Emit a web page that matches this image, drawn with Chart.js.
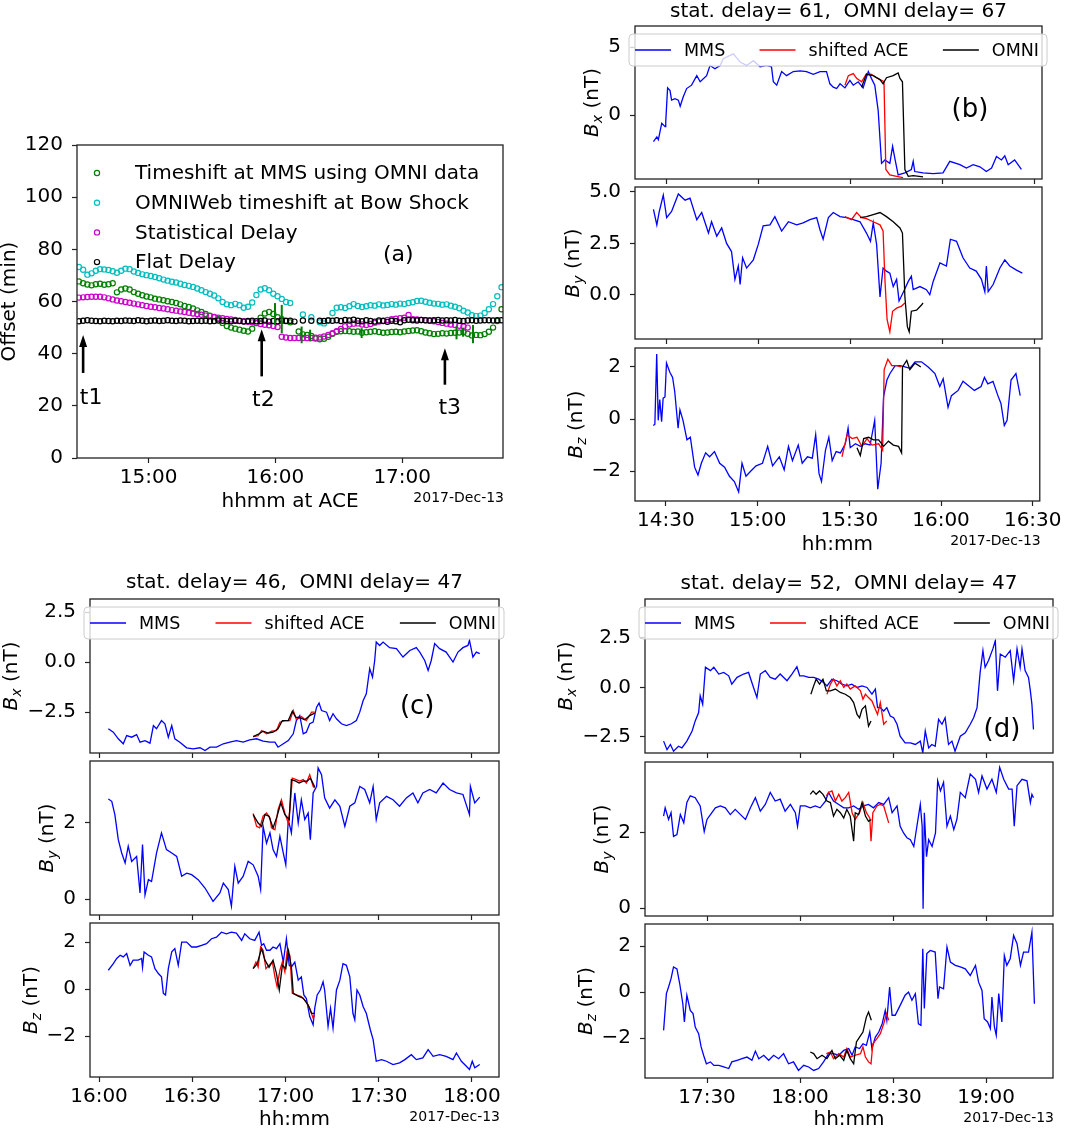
<!DOCTYPE html>
<html>
<head>
<meta charset="utf-8">
<title>Timeshift comparison</title>
<script src="https://cdn.jsdelivr.net/npm/chart.js@4/dist/chart.umd.min.js"></script>
<style>
    html, body { margin: 0; padding: 0; background: #fff; }
    #page { position: relative; width: 1065px; height: 1132px; overflow: hidden; background: #fff; }
    #page canvas { position: absolute; }
</style>
</head>
<body>
<div id="page"></div>
<script>
"use strict";

const FONT = "'DejaVu Sans', sans-serif";
const MINUS = "\u2212";
const DATE_TEXT = "2017-Dec-13";

// ---- panel (a): offsets in minutes, time in minutes since 00:00 ----
const aTimes = [867, 869, 871, 873, 875, 877, 879, 881, 883, 885, 887, 889, 891, 893, 895, 897, 899, 901, 903, 905,
    907, 909, 911, 913, 915, 917, 919, 921, 923, 925, 927, 929, 931, 933, 935, 937, 939, 941, 943, 945,
    947, 949, 951, 953, 955, 957, 959, 961, 963, 965, 967, 969, 971, 973, 975, 977, 979, 981, 983, 985,
    987, 989, 991, 993, 995, 997, 999, 1001, 1003, 1005, 1007, 1009, 1011, 1013, 1015, 1017, 1019, 1021, 1023, 1025,
    1027, 1029, 1031, 1033, 1035, 1037, 1039, 1041, 1043, 1045, 1047, 1049, 1051, 1053, 1055, 1057, 1059, 1061, 1063, 1065, 1067];
const aMmsShift = [67.7, 67.0, 66.5, 66.2, 66.6, 66.8, 66.4, 66.6, 67.0, 63.5, 64.6, 65.0, 64.6, 63.6, 63.0, 62.4, 61.9, 61.6, 61.1, 60.8,
    60.5, 60.1, 59.8, 59.4, 58.9, 58.3, 57.9, 57.3, 56.6, 56.0, 55.2, 54.6, 54.0, 53.3, 51.8, 50.6, 50.0, 49.6, 49.2, 48.8,
    48.5, 49.6, 51.8, 53.8, 55.4, 56.0, 55.2, 54.0, 53.2, 52.6, 52.0, null, 48.5, 47.4, 47.2, 46.8, 45.8, 45.5, 45.7, 46.5,
    47.6, 48.4, 48.6, 48.7, 48.6, 48.4, 48.5, 48.0, 48.2, 48.4, 48.6, 48.3, 48.0, 48.1, 48.3, 48.4, 48.2, 48.5, 48.7, 48.9,
    49.0, 48.6, 48.1, 47.8, 47.5, 47.6, 47.8, 47.7, 47.9, 48.0, 48.1, 48.2, 47.6, 47.0, 47.2, 47.1, 47.5, 48.4, 50.0, 52.5, 57.0];
const aBowShock = [73.2, 72.2, 70.3, 70.8, 71.8, 72.4, 72.3, 72.1, 71.6, 71.0, 71.8, 72.6, 72.4, 71.5, 70.9, 70.4, 70.1, 69.8, 69.4, 68.9,
    68.4, 68.0, 67.6, 67.3, 66.8, 66.3, 66.0, 65.6, 65.0, 64.3, 63.6, 63.0, 62.3, 61.2, 59.8, 58.9, 58.6, 59.1, 58.6, 57.6,
    58.0, 59.6, 62.5, 64.6, 65.1, 64.3, 63.0, 62.0, 61.0, 59.8, 59.4, null, null, 55.0, null, 54.0, null, 52.0, 51.6, 52.8,
    55.6, 57.6, 57.8, 57.5, 58.2, 59.0, 58.3, 57.9, 58.2, 58.6, 58.4, 58.9, 58.5, 58.7, 59.0, 58.8, 59.2, 59.0, 59.4, 59.7,
    60.2, 60.3, 59.9, 59.5, 59.2, 59.1, 58.8, 58.9, 58.4, 58.0, 57.4, 56.5, 55.8, 54.7, 54.4, 54.6, 55.6, 57.0, 59.0, 62.0, 65.5];
const aStatDelay = [61.5, 61.6, 61.7, 61.8, 61.8, 61.8, 61.6, 61.2, 60.8, 60.4, 60.1, 59.8, 59.5, 59.2, 58.9, 58.6, 58.3, 58.0, 57.8, 57.5,
    57.3, 57.0, 56.7, 56.5, 56.2, 56.0, 55.7, 55.4, 55.2, 54.9, 54.6, 54.4, 54.1, 53.8, 53.6, 53.3, 53.1, 52.9, 52.6, 52.4,
    52.2, 52.0, 51.7, 51.4, 51.1, 50.9, 50.6, 50.2, 46.5, 46.2, 46.0, 46.0, 46.0, 46.0, 46.0, 46.0, 46.1, 46.2, 46.6, 47.2,
    47.8, 48.6, 49.5, 50.5, 51.2, 51.5, 51.6, 51.2, 51.0, 51.4, 51.9, 52.3, 52.6, 52.9, 53.2, 53.4, 53.6, 53.8, 54.8, 53.2,
    53.1, 52.9, 52.8, 52.6, 52.4, 52.1, 51.8, 51.5, 51.2, 51.0, 50.7, 50.4, 50.0, null, null, null, null, null, null, null, null];
const aFlatDelay = [52.4, 52.6, 52.8, 52.6, 52.5, 52.4, 52.6, 52.5, 52.4, 52.6, 52.5, 52.7, 52.6, 52.5, 52.8, 52.6, 52.4, 52.6, 52.7, 52.5,
    52.6, 52.8, 52.6, 52.5, 52.7, 52.6, 52.4, 52.5, 52.6, 52.5, 52.6, 52.4, 52.5, 52.7, 52.6, 52.5, 52.4, 52.6, 52.5, 52.3,
    52.5, 52.6, 52.4, 52.5, 52.7, 52.3, 52.5, 52.4, 52.6, 52.5, 52.6, 52.3, null, 52.7, null, 52.6, null, 52.6, 52.5, 52.7,
    52.6, 52.8, 52.5, 52.9, 52.7, 53.0, 52.6, 52.4, 52.8, 52.5, 52.3, 52.7, 52.5, 52.2, 52.6, 52.4, 52.0, 52.8, 53.0, 52.8,
    52.7, 52.9, 52.8, 52.7, 52.8, 52.9, 52.7, 52.8, 52.7, 52.9, 52.6, 52.5, 52.7, 52.8, 52.6, 52.7, 52.8, 52.8, 52.7, 52.8, 52.8];
const aErrTimes = [959.8, 963.0, 972.4, 976.4, 1000.8, 1045.7, 1048.8, 1053.5];
const aErrLow = [51.0, 47.9, 44.0, 44.7, 46.0, 45.5, 46.5, 44.0];
const aErrHigh = [59.4, 58.7, 50.4, 49.2, 49.8, 50.5, 50.0, 51.0];
const aArrowTimes = [869.0, 953.5, 1040.2];
const aArrowTail = [32.6, 31.3, 28.1];
const aArrowTip = [47.2, 49.4, 42.1];
const aArrowLabels = ["t1", "t2", "t3"];
const aLabelTimes = [872.8, 954.3, 1042.5];
const aLabelValues = [23.0, 22.3, 19.1];
const aXTicks = [900, 960, 1020];
const aYTicks = [0, 20, 40, 60, 80, 100, 120];

// ---- panel (b) ----
const bTitle = "stat. delay= 61,  OMNI delay= 67";
const bXTicks = [870, 900, 930, 960, 990];
const bBxMmsT = [865.9, 867.0, 867.5, 868.6, 869.7, 869.9, 870.5, 871.3, 871.8, 872.9, 874.0, 874.6, 875.6, 876.7, 878.3, 880.0, 881.1, 883.2, 884.3, 885.9,
    887.6, 888.6, 891.9, 894.1, 896.2, 898.4, 900.6, 902.7, 904.3, 904.9, 906.0, 907.6, 909.2, 911.4, 913.6, 915.7, 917.9, 920.1, 922.2, 923.3,
    924.4, 925.5, 926.6, 928.2, 929.8, 930.9, 932.5, 934.1, 935.8, 936.8, 937.9, 939.0, 940.1, 941.2, 942.8, 943.7, 944.4, 945.5, 947.7, 949.8,
    950.4, 950.9, 953.6, 956.9, 960.1, 962.3, 965.6, 967.7, 969.9, 972.1, 974.2, 975.9, 977.5, 979.1, 980.2, 981.3, 983.4, 985.6];
const bBxMms = [-1.95, -1.6, -1.8, -0.6, -0.85, -0.5, 2.0, 1.8, 1.1, 1.2, 1.1, 0.65, 1.35, 1.95, 2.2, 2.9, 2.45, 2.9, 3.65, 3.4,
    3.65, 4.15, 4.5, 3.9, 3.65, 4.0, 3.55, 3.65, 3.55, 2.45, 2.2, 3.2, 2.9, 3.2, 3.25, 3.2, 3.0, 3.2, 3.2, 2.3,
    2.05, 1.95, 2.3, 2.0, 2.55, 2.2, 2.45, 2.0, 3.2, 2.7, 2.2, 0.35, -3.55, -3.3, -3.55, -2.3, -3.15, -4.4, -4.25, -4.0,
    -3.4, -4.15, -4.25, -4.3, -4.25, -3.4, -3.65, -3.9, -3.65, -3.8, -4.15, -3.9, -3.05, -3.3, -3.0, -3.65, -3.3, -4.0];
const bBxAceT = [928.2, 929.3, 930.9, 932.0, 933.6, 935.2, 936.8, 938.5, 940.1, 940.9, 941.5, 942.8, 945.0, 947.1];
const bBxAce = [2.2, 2.9, 3.05, 2.7, 2.45, 3.05, 3.0, 2.75, 2.55, 2.45, -4.0, -4.4, -4.5, -4.6];
const bBxOmniT = [933.6, 935.2, 937.4, 939.6, 940.6, 941.7, 943.9, 945.5, 946.1, 946.9, 947.7, 948.8, 950.4, 953.6];
const bBxOmni = [2.05, 3.0, 2.9, 2.6, 2.3, 2.75, 2.9, 3.1, 2.7, 2.45, -4.0, -4.5, -4.45, -4.55];
const bByMmsT = [865.9, 867.0, 867.8, 869.1, 870.2, 871.8, 874.0, 876.2, 877.8, 880.0, 881.6, 883.8, 884.8, 886.5, 888.1, 889.7, 891.3, 892.4, 893.5, 894.1,
    894.9, 896.2, 898.4, 900.0, 901.6, 903.8, 905.4, 907.6, 909.8, 912.5, 914.6, 916.8, 919.0, 920.1, 921.1, 922.8, 924.4, 926.6, 928.7, 930.9,
    933.1, 935.2, 936.5, 937.4, 938.5, 939.6, 940.6, 941.7, 942.8, 943.9, 945.0, 945.8, 947.1, 948.8, 949.8, 950.4, 952.6, 954.7, 955.8, 956.9,
    959.1, 961.2, 962.5, 964.5, 966.6, 968.8, 970.9, 972.6, 973.7, 974.2, 974.8, 976.4, 978.6, 980.2, 981.8, 984.0, 985.9];
const bByMms = [4.15, 3.4, 4.05, 4.85, 3.75, 4.05, 4.9, 4.6, 4.7, 3.65, 4.0, 3.0, 3.55, 2.85, 3.25, 2.5, 2.1, 0.75, 1.4, 0.5,
    1.8, 1.3, 1.7, 2.45, 3.35, 3.4, 3.8, 3.1, 3.55, 3.4, 3.5, 3.65, 3.75, 3.15, 2.7, 3.75, 4.0, 3.8, 3.75, 3.65,
    3.55, 3.0, 2.6, 3.5, 2.45, -0.1, 1.3, 1.15, 1.05, 0.4, 0.75, -0.3, 0.1, 0.65, 0.9, 0.25, 0.4, 0.25, 0.0, 0.65,
    1.55, 1.4, 2.7, 2.6, 1.8, 1.3, 1.15, 0.75, 0.15, 1.4, 0.15, 0.5, 1.3, 1.7, 1.4, 1.2, 1.05];
const bByAceT = [928.2, 930.3, 932.0, 933.6, 935.2, 937.4, 939.6, 940.6, 941.2, 941.9, 942.8, 943.7, 945.0, 946.6, 947.7];
const bByAce = [3.8, 3.65, 4.0, 3.75, 3.7, 3.55, 3.4, 3.1, 0.75, -1.2, -1.8, -0.8, -0.65, -0.55, -0.4];
const bByOmniT = [933.1, 935.2, 937.4, 939.6, 941.7, 943.9, 946.1, 946.9, 947.7, 948.5, 949.1, 949.8, 951.5, 953.1, 953.6];
const bByOmni = [3.75, 3.8, 3.9, 4.0, 3.8, 3.55, 3.25, 3.0, -0.1, -1.55, -1.8, -0.8, -0.75, -0.5, -0.4];
const bBzMmsT = [865.9, 866.4, 867.0, 867.5, 868.0, 868.6, 869.1, 869.7, 870.2, 871.3, 872.2, 872.9, 874.0, 874.6, 875.6, 876.9, 878.0, 879.4, 880.5, 881.6,
    883.0, 884.3, 885.9, 887.6, 889.2, 890.8, 892.4, 893.8, 894.9, 896.2, 897.8, 899.5, 901.6, 903.3, 904.9, 907.1, 908.7, 910.1, 911.4, 913.3,
    914.6, 916.3, 917.9, 919.0, 920.1, 920.9, 922.2, 923.3, 924.4, 925.7, 927.1, 928.7, 929.6, 930.3, 932.0, 933.6, 935.2, 936.8, 938.3, 939.3,
    940.4, 941.2, 942.3, 943.3, 945.0, 946.6, 948.2, 949.8, 951.5, 953.6, 955.8, 958.0, 959.6, 960.7, 962.3, 963.4, 965.6, 967.2, 968.8, 970.9,
    973.1, 974.2, 975.3, 977.0, 978.6, 979.6, 980.7, 981.6, 982.9, 984.5, 985.9];
const bBzMms = [-0.25, -0.2, 2.5, -0.05, 0.75, -0.1, 0.8, 0.85, 2.15, 1.8, 1.6, 1.05, -0.35, 0.35, -0.05, -0.8, -0.7, -1.85, -2.15, -1.7,
    -1.3, -1.45, -1.25, -1.7, -1.85, -2.2, -2.4, -2.8, -1.7, -2.2, -2.0, -1.8, -1.7, -1.05, -1.8, -1.45, -1.95, -1.05, -1.6, -1.0,
    -1.7, -1.45, -1.5, -0.6, -2.1, -2.4, -1.2, -0.7, -1.6, -1.25, -1.3, -0.95, -0.35, -1.1, -0.95, -1.05, -0.95, -1.0, -0.05, -2.7,
    -1.7, 0.85, 1.5, 1.75, 2.05, 2.05, 2.0, 1.95, 2.2, 2.2, 2.0, 1.75, 1.25, 1.55, 0.45, 0.9, 1.1, 1.45, 1.3, 1.1,
    1.25, 1.6, 1.35, 1.45, 0.9, 0.6, -0.25, -0.05, 1.5, 1.75, 0.9];
const bBzAceT = [927.6, 929.3, 930.9, 932.5, 934.1, 935.8, 937.4, 939.6, 940.9, 941.4, 942.6, 943.9, 945.5, 946.9];
const bBzAce = [-1.45, -0.6, -0.75, -0.7, -1.05, -0.75, -1.0, -0.95, -1.2, 1.9, 2.3, 2.05, 2.05, 2.0];
const bBzOmniT = [932.5, 933.6, 934.7, 936.3, 937.9, 939.6, 941.2, 942.8, 944.4, 946.1, 947.1, 947.4, 948.8, 949.8, 951.5, 953.4];
const bBzOmni = [-1.1, -1.4, -0.75, -0.7, -0.8, -0.8, -1.05, -0.85, -1.0, -1.05, -1.3, 2.0, 2.25, 1.9, 2.15, 2.0];

// ---- panel (c) ----
const cTitle = "stat. delay= 46,  OMNI delay= 47";
const cXTicks = [960, 990, 1020, 1050, 1080];
const cBxMmsT = [963.0, 964.6, 966.2, 967.8, 968.9, 970.5, 972.1, 973.2, 974.8, 976.4, 977.5, 978.5, 980.1, 981.2, 982.3, 983.4, 984.4, 986.0, 988.2, 990.3,
    992.5, 994.1, 995.7, 997.8, 1000.0, 1002.1, 1004.2, 1006.4, 1008.5, 1010.7, 1012.8, 1015.0, 1016.6, 1017.6, 1019.3, 1020.9, 1022.5, 1023.5, 1024.6, 1025.7,
    1026.7, 1027.8, 1028.9, 1030.0, 1030.8, 1031.6, 1033.2, 1034.2, 1035.3, 1036.4, 1038.0, 1039.6, 1041.2, 1042.8, 1043.9, 1045.0, 1046.0, 1047.1, 1048.0, 1048.7,
    1049.2, 1050.3, 1051.4, 1053.5, 1055.7, 1057.8, 1060.0, 1062.1, 1063.2, 1064.8, 1065.9, 1066.9, 1068.0, 1069.6, 1071.7, 1073.9, 1075.5, 1077.1, 1078.7, 1079.2,
    1080.3, 1081.4, 1082.5];
const cBxMms = [-3.33, -3.5, -3.83, -4.08, -3.67, -3.75, -3.62, -4.0, -3.92, -4.05, -3.17, -3.33, -2.92, -3.08, -3.75, -3.17, -3.83, -4.0, -4.28, -4.33,
    -4.28, -4.42, -4.25, -4.25, -4.08, -4.0, -3.92, -4.0, -3.88, -3.83, -3.95, -4.0, -4.0, -4.25, -4.08, -3.92, -3.58, -2.92, -2.67, -3.58,
    -3.5, -3.08, -3.0, -2.25, -2.05, -2.42, -2.5, -2.92, -2.58, -2.83, -3.08, -3.17, -3.08, -2.92, -2.5, -1.92, -1.58, -0.33, -0.75, 0.08,
    1.0, 0.83, 1.0, 0.72, 0.67, 0.25, 0.58, 0.72, 0.5, 0.08, -0.42, 0.08, 0.92, 0.67, 0.5, 0.0, 0.5, 0.72, 0.83, 1.08,
    0.25, 0.5, 0.42];
const cBxAceT = [1009.6, 1011.2, 1012.3, 1013.9, 1015.5, 1017.1, 1018.2, 1019.8, 1021.4, 1022.5, 1023.5, 1025.1, 1026.7, 1028.4, 1029.4];
const cBxAce = [-3.72, -3.67, -3.42, -3.58, -3.45, -3.42, -3.0, -2.92, -2.92, -2.42, -2.87, -2.72, -2.92, -2.5, -2.5];
const cBxOmniT = [1009.6, 1011.5, 1012.8, 1014.4, 1016.0, 1017.6, 1019.0, 1020.9, 1022.2, 1023.3, 1024.6, 1026.2, 1027.8, 1029.4];
const cBxOmni = [-3.72, -3.58, -3.45, -3.55, -3.5, -3.33, -2.92, -2.92, -2.45, -2.75, -2.78, -2.88, -2.67, -2.55];
const cByMmsT = [963.0, 964.1, 965.1, 966.2, 967.3, 968.4, 969.4, 970.5, 972.1, 973.2, 974.0, 974.8, 975.9, 976.9, 978.5, 980.1, 981.7, 983.4, 985.0, 986.6,
    988.2, 989.8, 991.9, 994.1, 996.7, 998.9, 1000.0, 1001.6, 1002.6, 1003.7, 1004.8, 1006.4, 1008.0, 1009.6, 1011.2, 1012.0, 1012.8, 1013.9, 1015.0, 1016.0,
    1017.1, 1018.2, 1019.3, 1020.1, 1020.9, 1021.9, 1023.0, 1024.1, 1025.1, 1026.2, 1027.3, 1028.0, 1028.9, 1030.0, 1030.5, 1031.6, 1032.6, 1034.2, 1035.9, 1037.5,
    1039.1, 1040.7, 1042.3, 1043.9, 1045.5, 1047.1, 1048.2, 1049.2, 1050.3, 1052.5, 1054.6, 1056.7, 1058.9, 1061.0, 1062.6, 1064.2, 1066.4, 1068.5, 1070.7, 1072.8,
    1075.0, 1077.1, 1079.2, 1079.5, 1080.9, 1082.5];
const cByMms = [2.63, 2.57, 2.22, 1.56, 1.21, 0.95, 1.39, 0.99, 1.12, 0.16, 1.43, 0.11, 0.51, 0.46, 1.21, 1.74, 1.3, 1.21, 1.12, 0.6,
    0.68, 0.64, 0.51, 0.29, -0.06, 0.16, 0.42, 0.25, -0.19, 0.86, 0.42, 0.6, 0.99, 0.9, 0.6, 0.25, 1.91, 1.47, 1.74, 1.3,
    1.12, 1.65, 1.21, 0.9, 2.09, 1.74, 2.79, 2.0, 2.61, 2.09, 2.26, 1.56, 2.79, 2.96, 3.45, 3.27, 2.66, 2.39, 2.61, 2.44,
    1.91, 2.44, 2.53, 2.96, 2.88, 2.53, 2.96, 2.09, 2.53, 2.7, 2.61, 2.44, 2.66, 2.79, 2.53, 2.79, 2.88, 2.79, 3.05, 2.88,
    2.79, 2.75, 2.22, 2.96, 2.53, 2.68];
const cByAceT = [1009.6, 1010.7, 1011.7, 1012.8, 1013.9, 1015.0, 1015.5, 1016.6, 1017.6, 1018.7, 1019.8, 1020.9, 1021.4, 1022.2, 1023.5, 1024.6, 1025.7, 1026.7, 1027.8, 1028.9, 1029.4];
const cByAce = [2.25, 1.91, 1.87, 2.18, 2.26, 2.13, 1.87, 1.82, 2.35, 2.61, 2.26, 2.0, 2.35, 3.18, 3.14, 3.1, 3.14, 3.05, 3.27, 2.96, 2.92];
const cByOmniT = [1009.6, 1011.2, 1012.3, 1013.4, 1014.7, 1016.0, 1017.3, 1018.5, 1019.8, 1021.2, 1021.9, 1023.3, 1024.4, 1025.7, 1027.0, 1028.0, 1029.4];
const cByOmni = [2.22, 2.0, 1.91, 2.22, 2.18, 1.87, 2.18, 2.53, 2.22, 2.09, 3.14, 3.1, 3.05, 3.1, 3.1, 3.18, 2.95];
const cBzMmsT = [963.0, 964.6, 965.7, 966.8, 967.8, 968.9, 970.0, 971.0, 972.6, 973.7, 974.0, 974.5, 975.9, 976.9, 978.0, 979.1, 980.1, 980.7, 981.4, 982.3,
    983.4, 984.4, 985.5, 986.6, 988.2, 989.8, 991.4, 993.0, 994.6, 996.2, 997.8, 999.4, 1001.0, 1002.6, 1004.2, 1005.9, 1006.9, 1008.5, 1010.1, 1011.5,
    1012.3, 1013.0, 1013.9, 1015.0, 1016.0, 1017.1, 1018.2, 1019.3, 1020.3, 1021.2, 1021.9, 1023.0, 1024.1, 1025.1, 1025.9, 1026.7, 1027.8, 1028.9, 1029.4, 1030.2,
    1031.2, 1032.1, 1032.6, 1033.7, 1034.5, 1035.3, 1036.4, 1037.5, 1038.5, 1039.6, 1040.7, 1041.7, 1042.3, 1043.0, 1043.9, 1045.0, 1046.0, 1047.3, 1048.2, 1049.2,
    1050.9, 1052.5, 1054.6, 1056.7, 1058.4, 1060.5, 1062.1, 1064.2, 1065.9, 1067.5, 1069.6, 1071.7, 1073.9, 1075.0, 1076.6, 1078.2, 1079.2, 1080.1, 1080.9, 1082.5];
const cBzMms = [0.8, 1.08, 1.3, 1.44, 1.37, 1.51, 1.01, 1.23, 1.23, 1.3, 0.92, 1.58, 1.44, 1.37, 0.87, 0.66, 0.52, -0.18, -0.25, 0.87,
    1.58, 1.72, 1.01, 2.0, 2.0, 1.79, 1.79, 1.86, 1.93, 2.14, 2.21, 2.42, 2.35, 2.42, 2.38, 2.07, 2.35, 2.14, 2.07, 2.42,
    1.86, 1.93, 1.65, 1.65, 1.79, 1.72, 1.93, 1.15, 2.14, 1.01, 0.94, 1.15, 0.38, 0.52, -0.25, -0.39, -1.17, -1.52, -0.82, -0.25,
    -0.04, 0.31, -0.04, -1.59, -0.82, -1.66, -0.04, 0.38, 1.08, 1.01, 0.52, -1.03, -1.31, -0.04, -0.25, -0.75, -1.03, -1.73, -2.15, -3.07,
    -3.0, -3.07, -3.21, -3.14, -3.0, -2.79, -3.0, -2.93, -2.58, -2.86, -2.79, -2.86, -3.0, -2.72, -3.07, -3.28, -3.42, -3.07, -3.35, -3.21];
const cBzAceT = [1009.6, 1010.5, 1011.2, 1012.0, 1012.8, 1013.7, 1014.7, 1015.8, 1016.6, 1017.3, 1018.2, 1019.0, 1019.8, 1020.5, 1021.4, 1022.2, 1023.5, 1025.1, 1026.7, 1027.8, 1028.9, 1029.4];
const cBzAce = [0.87, 1.15, 0.94, 1.79, 1.65, 0.87, 1.01, 1.15, 0.52, 0.1, 0.8, 1.15, 0.73, 1.58, 1.44, -0.18, -0.25, -0.32, -0.54, -0.82, -1.24, -1.1];
const cBzOmniT = [1009.6, 1010.9, 1012.3, 1013.4, 1014.7, 1016.0, 1017.1, 1018.0, 1019.0, 1020.1, 1021.0, 1021.9, 1022.5, 1024.1, 1025.7, 1027.3, 1028.4, 1029.4];
const cBzOmni = [0.87, 1.08, 1.72, 1.23, 0.92, 1.23, 0.66, -0.04, 1.01, 0.87, 1.62, 0.94, -0.18, -0.3, -0.39, -0.68, -1.03, -1.03];

// ---- panel (d) ----
const dTitle = "stat. delay= 52,  OMNI delay= 47";
const dXTicks = [1050, 1080, 1110, 1140];
const dBxMmsT = [1036.0, 1037.1, 1038.2, 1039.2, 1040.8, 1041.9, 1043.5, 1045.2, 1046.2, 1047.3, 1047.8, 1048.6, 1049.5, 1051.1, 1052.2, 1053.8, 1055.4, 1057.0, 1058.0, 1059.7,
    1061.8, 1063.4, 1065.0, 1066.1, 1067.2, 1068.8, 1070.4, 1072.0, 1073.6, 1075.8, 1077.4, 1079.0, 1079.9, 1081.2, 1082.8, 1084.4, 1086.0, 1087.6, 1088.7, 1090.3,
    1091.9, 1093.5, 1095.1, 1096.7, 1098.4, 1100.0, 1101.6, 1103.2, 1104.3, 1105.0, 1105.9, 1107.0, 1108.0, 1109.1, 1110.2, 1111.3, 1112.3, 1113.9, 1115.6, 1117.2,
    1118.8, 1119.6, 1120.4, 1121.5, 1122.5, 1123.6, 1124.7, 1125.8, 1126.8, 1127.9, 1129.0, 1130.0, 1131.7, 1133.3, 1134.9, 1136.0, 1137.1, 1138.1, 1139.0, 1139.7,
    1140.8, 1142.2, 1143.0, 1143.7, 1144.6, 1146.2, 1147.8, 1148.9, 1150.0, 1151.0, 1151.6, 1152.6, 1153.7, 1154.3, 1154.8, 1155.3];
const dBxMms = [-2.71, -3.14, -2.88, -3.22, -2.97, -3.05, -2.71, -2.2, -1.69, -1.27, -0.42, -0.85, 1.02, 0.85, 1.02, 0.68, 0.76, 0.59, 0.17, 0.51,
    0.68, 0.76, 0.0, -0.51, 0.68, 0.85, 0.51, 0.42, 0.68, 0.34, 0.68, 1.05, 0.59, 0.59, 0.51, 0.51, 0.42, 0.25, 0.08, 0.42,
    0.34, 0.17, 0.08, 0.17, 0.0, 0.08, 0.0, -0.34, -0.08, -1.02, -1.02, -1.19, -1.02, -1.44, -1.53, -1.86, -2.46, -2.8, -2.8, -2.88,
    -2.71, -3.31, -2.2, -3.05, -2.88, -2.97, -1.61, -1.86, -1.53, -2.88, -2.71, -3.22, -2.46, -2.29, -1.86, -1.53, -1.02, 0.76, 1.86, 1.02,
    1.36, 1.95, 2.37, -0.17, 1.69, 1.53, 1.86, 0.34, 1.95, 1.02, 1.95, 0.85, 0.51, -0.17, -0.85, -2.12];
const dBxAceT = [1088.7, 1089.8, 1090.8, 1091.9, 1093.0, 1094.1, 1095.1, 1096.2, 1097.8, 1099.5, 1100.3, 1101.1, 1102.1, 1103.2, 1104.3, 1105.0, 1105.9, 1107.0, 1108.0];
const dBxAce = [-0.34, 0.17, 0.42, 0.08, 0.34, 0.0, 0.17, -0.08, 0.08, -0.17, -0.59, -0.34, -0.51, -0.68, -1.1, -1.36, -0.76, -1.86, -1.69];
const dBxOmniT = [1083.5, 1084.4, 1085.2, 1086.3, 1087.4, 1088.5, 1089.8, 1091.4, 1093.0, 1094.6, 1096.2, 1097.3, 1098.4, 1099.2, 1100.0, 1101.1, 1102.1, 1102.9];
const dBxOmni = [-0.34, 0.08, 0.42, 0.17, 0.42, -0.17, -0.17, -0.08, -0.25, -0.34, -0.51, -0.76, -1.36, -1.53, -1.1, -0.93, -1.95, -1.69];
const dByMmsT = [1036.0, 1036.5, 1037.6, 1038.4, 1039.2, 1040.3, 1041.4, 1042.5, 1043.5, 1044.6, 1046.2, 1047.8, 1049.1, 1050.0, 1051.1, 1052.7, 1054.3, 1055.9, 1057.5, 1059.1,
    1060.8, 1062.4, 1064.0, 1065.6, 1067.2, 1068.8, 1070.4, 1072.0, 1073.6, 1075.2, 1076.9, 1078.5, 1079.2, 1080.1, 1081.7, 1083.3, 1084.9, 1086.5, 1088.2, 1089.2,
    1090.8, 1092.5, 1094.1, 1095.7, 1097.3, 1098.9, 1100.5, 1102.1, 1103.7, 1105.4, 1107.0, 1108.6, 1109.7, 1111.3, 1112.3, 1113.4, 1114.5, 1115.6, 1116.7, 1117.7,
    1118.8, 1119.4, 1119.7, 1120.1, 1120.8, 1121.5, 1122.6, 1123.7, 1124.4, 1125.3, 1126.3, 1127.4, 1128.5, 1129.6, 1130.6, 1131.7, 1133.3, 1134.9, 1136.6, 1137.6,
    1138.7, 1140.3, 1141.9, 1143.3, 1144.4, 1145.7, 1147.3, 1148.4, 1149.1, 1150.0, 1151.6, 1153.2, 1154.3, 1154.8, 1155.3];
const dByMms = [2.45, 2.67, 2.36, 2.54, 1.91, 1.96, 2.49, 2.27, 2.81, 2.99, 2.94, 2.72, 2.04, 2.36, 2.49, 2.67, 2.72, 2.67, 2.49, 2.63,
    2.49, 2.36, 2.67, 2.94, 2.58, 2.76, 3.08, 2.85, 2.9, 2.58, 2.76, 2.54, 2.18, 2.72, 2.72, 2.67, 2.72, 2.67, 2.85, 3.08,
    2.85, 2.76, 2.67, 2.67, 2.72, 2.63, 2.72, 2.76, 2.67, 2.81, 2.76, 2.94, 2.54, 2.72, 2.18, 2.0, 1.87, 1.82, 1.64, 2.18,
    2.76, 2.18, -0.02, 2.54, 1.37, 1.82, 1.64, 2.0, 3.39, 3.12, 3.35, 2.18, 2.45, 2.09, 2.36, 3.08, 2.94, 3.57, 3.43, 3.08,
    3.52, 3.17, 3.43, 3.08, 3.75, 3.43, 3.17, 3.17, 2.18, 3.26, 3.43, 3.39, 2.81, 3.03, 2.94];
const dByAceT = [1088.5, 1089.2, 1090.3, 1091.4, 1092.5, 1093.5, 1094.6, 1095.7, 1096.8, 1097.8, 1099.2, 1100.3, 1101.4, 1102.5, 1102.9, 1103.5, 1104.8, 1105.9, 1107.0, 1108.6];
const dByAce = [2.99, 3.08, 3.12, 2.85, 3.03, 2.85, 2.94, 3.08, 2.54, 2.36, 2.54, 2.81, 2.54, 2.4, 1.78, 2.54, 2.72, 2.76, 2.72, 2.27];
const dByOmniT = [1083.3, 1084.2, 1085.2, 1086.3, 1087.4, 1088.7, 1089.8, 1090.8, 1091.9, 1093.0, 1094.1, 1095.1, 1096.2, 1097.3, 1097.8, 1098.9, 1100.0, 1101.1, 1102.1, 1103.0];
const dByOmni = [3.03, 3.12, 3.03, 3.12, 3.03, 2.85, 2.81, 2.45, 2.63, 2.54, 2.4, 2.63, 2.45, 1.78, 2.54, 2.49, 2.81, 2.45, 2.31, 2.36];
const dBzMmsT = [1036.0, 1036.9, 1037.6, 1038.4, 1039.2, 1040.3, 1041.2, 1042.2, 1042.7, 1043.5, 1044.6, 1045.5, 1046.2, 1047.3, 1048.1, 1048.9, 1049.8, 1051.1, 1052.2, 1053.8,
    1055.4, 1057.0, 1058.0, 1059.7, 1061.3, 1062.9, 1064.5, 1065.6, 1066.7, 1068.3, 1069.9, 1071.5, 1073.1, 1074.7, 1076.3, 1077.9, 1079.5, 1081.2, 1082.8, 1084.4,
    1086.0, 1087.6, 1089.2, 1090.8, 1092.5, 1094.1, 1095.7, 1096.8, 1097.8, 1099.2, 1100.3, 1101.4, 1102.5, 1103.2, 1104.3, 1105.4, 1106.5, 1107.5, 1108.0, 1108.9,
    1109.7, 1110.7, 1112.3, 1113.9, 1115.0, 1116.1, 1117.2, 1118.2, 1119.0, 1119.6, 1120.1, 1120.9, 1122.0, 1123.6, 1124.5, 1125.0, 1126.3, 1127.4, 1128.5, 1130.1,
    1131.7, 1133.3, 1134.9, 1136.6, 1137.6, 1138.7, 1139.4, 1140.5, 1141.4, 1141.9, 1142.7, 1143.3, 1144.1, 1145.1, 1145.9, 1146.7, 1147.8, 1148.9, 1150.0, 1151.1,
    1152.1, 1153.7, 1154.8, 1155.6];
const dBzMms = [-1.67, -0.07, 0.22, 0.58, 1.09, 1.01, 0.36, -0.51, -1.3, -0.14, -0.8, -0.94, -1.52, -1.81, -2.39, -2.75, -3.12, -3.04, -3.19, -3.19,
    -3.26, -3.33, -3.04, -2.97, -2.9, -2.83, -2.97, -2.57, -2.9, -2.75, -2.97, -2.75, -2.9, -2.68, -3.12, -3.04, -3.41, -3.19, -3.26, -3.41,
    -3.33, -3.04, -2.68, -2.68, -2.75, -2.54, -2.46, -2.75, -2.39, -2.46, -2.25, -2.32, -1.74, -2.46, -1.96, -1.74, -1.38, -0.8, -1.23, 0.22,
    -1.01, -1.01, -0.58, -0.14, 0.0, -0.36, -0.07, -1.38, -1.45, 1.88, -0.72, 1.67, 1.81, 1.74, -0.29, 0.22, 0.14, 1.96, 1.3, 1.16,
    1.09, 1.01, 0.72, 1.16, 0.43, 0.07, -1.16, -1.3, -1.59, -0.22, -1.52, -1.88, -0.07, -1.3, 1.59, 1.16, 1.45, 2.46, 2.1, 1.16,
    1.74, 1.74, 2.61, -0.51];
const dBzAceT = [1088.5, 1089.8, 1090.8, 1092.5, 1094.1, 1095.1, 1096.2, 1097.8, 1099.5, 1100.3, 1101.1, 1102.1, 1102.9, 1103.5, 1104.8, 1105.9, 1107.0, 1107.9, 1108.6];
const dBzAce = [-2.68, -2.61, -2.9, -2.68, -2.83, -2.46, -2.83, -2.75, -2.68, -2.39, -2.83, -3.04, -3.12, -2.25, -2.03, -1.81, -1.38, -0.94, -1.23];
const dBzOmniT = [1083.3, 1084.4, 1085.5, 1087.1, 1088.7, 1090.3, 1091.4, 1092.8, 1094.1, 1095.1, 1096.2, 1097.3, 1098.2, 1099.2, 1100.3, 1101.4, 1102.1, 1103.0];
const dBzOmni = [-2.61, -2.68, -2.9, -2.75, -2.9, -2.54, -2.9, -2.75, -2.97, -2.54, -2.9, -3.12, -2.17, -1.96, -1.74, -1.09, -0.87, -1.23];

// ---- helpers ----
const page = document.getElementById("page");
const extras = new Map();

function series(times, values) {
    const out = [];
    const n = Math.min(times.length, values.length);
    for (let i = 0; i < n; i++) {
        if (values[i] !== null) {
            out.push({ x: times[i], y: values[i] });
        }
    }
    return out;
}

function clock(v) {
    const h = Math.floor(v / 60);
    const m = Math.round(v - h * 60);
    return `${h}:${String(m).padStart(2, "0")}`;
}

function num(decimals) {
    return (v) => {
        const s = Math.abs(v).toFixed(decimals);
        return v < 0 ? MINUS + s : s;
    };
}

function drawYLabel(chart, parts) {
    const { ctx, chartArea: a } = chart;
    ctx.save();
    ctx.font = `20px ${FONT}`;
    let maxW = 0;
    for (const tk of chart.scales.y.ticks) {
        maxW = Math.max(maxW, ctx.measureText(String(tk.label)).width);
    }
    const fonts = parts.map((pt) => `${pt.it ? "italic " : ""}${pt.sub ? 14 : 20}px ${FONT}`);
    const widths = parts.map((pt, i) => {
        ctx.font = fonts[i];
        return ctx.measureText(pt.t).width;
    });
    const total = widths.reduce((s, w) => s + w, 0);
    ctx.translate(a.left - 14 - maxW - 17, (a.top + a.bottom) / 2);
    ctx.rotate(-Math.PI / 2);
    ctx.fillStyle = "#000";
    ctx.textAlign = "left";
    ctx.textBaseline = "alphabetic";
    let x = -total / 2;
    parts.forEach((pt, i) => {
        ctx.font = fonts[i];
        ctx.fillText(pt.t, x, pt.sub ? 11 : 7);
        x += widths[i];
    });
    ctx.restore();
}

function drawLineLegend(chart) {
    const { ctx, chartArea: a } = chart;
    const left = a.left - 6;
    const right = a.right + 5;
    const top = a.top + 8;
    const h = 32;
    const handle = 36;
    const gap = 13;

    ctx.beginPath();
    ctx.roundRect(left, top, right - left, h, 4);
    ctx.fillStyle = "rgba(255,255,255,0.8)";
    ctx.fill();
    ctx.strokeStyle = "#cccccc";
    ctx.lineWidth = 1;
    ctx.stroke();

    ctx.font = `17.5px ${FONT}`;
    const items = chart.data.datasets;
    const widths = items.map((d) => handle + gap + ctx.measureText(d.label).width);
    const used = widths.reduce((s, w) => s + w, 0);
    const spare = ((right - 8) - (left + 6) - used) / (items.length - 1);
    const cy = top + h / 2;
    let x = left + 6;
    ctx.textAlign = "left";
    ctx.textBaseline = "middle";
    items.forEach((d, i) => {
        ctx.beginPath();
        ctx.moveTo(x, cy);
        ctx.lineTo(x + handle, cy);
        ctx.strokeStyle = d.borderColor;
        ctx.lineWidth = 1.3;
        ctx.stroke();
        ctx.fillStyle = "#000";
        ctx.fillText(d.label, x + handle + gap, cy + 1);
        x += widths[i] + spare;
    });
}

function drawMarkerLegend(chart) {
    const { ctx, chartArea: a } = chart;
    ctx.font = `20px ${FONT}`;
    ctx.textAlign = "left";
    ctx.textBaseline = "middle";
    chart.data.datasets.forEach((d, i) => {
        const y = a.top + 28 + i * 29.7;
        ctx.beginPath();
        ctx.arc(a.left + 20, y, 2.6, 0, Math.PI * 2);
        ctx.strokeStyle = d.borderColor;
        ctx.lineWidth = 1.2;
        ctx.stroke();
        ctx.fillStyle = "#000";
        ctx.fillText(d.label, a.left + 58, y + 1);
    });
}

function drawErrorBars(chart) {
    const { ctx, scales: { x, y } } = chart;
    ctx.strokeStyle = "#008000";
    ctx.lineWidth = 2;
    aErrTimes.forEach((t, i) => {
        const px = x.getPixelForValue(t);
        ctx.beginPath();
        ctx.moveTo(px, y.getPixelForValue(aErrLow[i]));
        ctx.lineTo(px, y.getPixelForValue(aErrHigh[i]));
        ctx.stroke();
    });
}

function drawArrows(chart) {
    const { ctx, scales: { x, y } } = chart;
    ctx.strokeStyle = "#000";
    ctx.fillStyle = "#000";
    aArrowTimes.forEach((t, i) => {
        const px = x.getPixelForValue(t);
        const tail = y.getPixelForValue(aArrowTail[i]);
        const tip = y.getPixelForValue(aArrowTip[i]);
        ctx.lineWidth = 2.6;
        ctx.beginPath();
        ctx.moveTo(px, tail);
        ctx.lineTo(px, tip + 10);
        ctx.stroke();
        ctx.beginPath();
        ctx.moveTo(px, tip);
        ctx.lineTo(px - 4, tip + 12);
        ctx.lineTo(px + 4, tip + 12);
        ctx.closePath();
        ctx.fill();
    });
    ctx.font = `22px ${FONT}`;
    ctx.textAlign = "center";
    ctx.textBaseline = "middle";
    aArrowLabels.forEach((label, i) => {
        ctx.fillText(label, x.getPixelForValue(aLabelTimes[i]), y.getPixelForValue(aLabelValues[i]));
    });
}

const mplPlugin = {
    id: "mpl",
    afterDatasetsDraw(chart) {
        const p = extras.get(chart.canvas);
        if (!p) {
            return;
        }
        const { ctx, chartArea: a } = chart;
        ctx.save();
        if (p.annotate) {
            drawErrorBars(chart);
            drawArrows(chart);
        }
        ctx.strokeStyle = "#222";
        ctx.lineWidth = 1.3;
        ctx.strokeRect(a.left, a.top, a.right - a.left, a.bottom - a.top);

        if (p.legend === "line") {
            drawLineLegend(chart);
        }
        else if (p.legend === "marker") {
            drawMarkerLegend(chart);
        }
        if (p.tag) {
            ctx.font = `${p.tag.size}px ${FONT}`;
            ctx.fillStyle = "#000";
            ctx.textAlign = "center";
            ctx.textBaseline = "middle";
            ctx.fillText(p.tag.text, a.left + p.tag.fx * (a.right - a.left), a.top + p.tag.fy * (a.bottom - a.top));
        }
        if (p.date) {
            ctx.font = `14px ${FONT}`;
            ctx.fillStyle = "#000";
            ctx.textAlign = "right";
            ctx.textBaseline = "middle";
            ctx.fillText(DATE_TEXT, a.right + 1, a.bottom + 40);
        }
        ctx.restore();
        drawYLabel(chart, p.ylabel);
    }
};

function tickFont() {
    return { family: FONT, size: 20 };
}

function makePanel(p) {
    const canvas = document.createElement("canvas");
    const w = p.box.r - p.box.l + p.m.l + p.m.r;
    const h = p.box.b - p.box.t + p.m.t + p.m.b;
    canvas.style.left = `${p.box.l - p.m.l}px`;
    canvas.style.top = `${p.box.t - p.m.t}px`;
    canvas.style.width = `${w}px`;
    canvas.style.height = `${h}px`;
    canvas.width = w;
    canvas.height = h;
    page.appendChild(canvas);
    extras.set(canvas, p);

    const grid = { drawOnChartArea: false, drawTicks: true, tickLength: 5, tickWidth: 1.2, tickColor: "#222" };

    return new Chart(canvas, {
        type: p.type || "line",
        data: { datasets: p.datasets },
        options: {
            responsive: false,
            maintainAspectRatio: false,
            animation: false,
            events: [],
            layout: { padding: { top: p.title ? 0 : p.m.t, right: p.m.r, bottom: 0, left: 0 } },
            plugins: {
                legend: { display: false },
                tooltip: { enabled: false },
                title: {
                    display: !!p.title,
                    text: p.title || "",
                    fullSize: false,
                    color: "#000",
                    font: { family: FONT, size: 20, weight: "normal" },
                    padding: { top: 0, bottom: p.m.t - 24 }
                }
            },
            scales: {
                x: {
                    type: "linear",
                    position: "bottom",
                    min: p.xRange[0],
                    max: p.xRange[1],
                    afterBuildTicks: (s) => { s.ticks = p.xTicks.map((v) => ({ value: v })); },
                    afterFit: (s) => { s.height = p.m.b; },
                    grid,
                    border: { display: false },
                    ticks: { display: !!p.xTitle, color: "#000", font: tickFont(), padding: 3, maxRotation: 0, autoSkip: false, callback: (v) => clock(v) },
                    title: { display: !!p.xTitle, text: p.xTitle || "", color: "#000", font: tickFont(), padding: 0 }
                },
                y: {
                    type: "linear",
                    position: "left",
                    min: p.yRange[0],
                    max: p.yRange[1],
                    afterBuildTicks: (s) => { s.ticks = p.yTicks.map((v) => ({ value: v })); },
                    afterFit: (s) => { s.width = p.m.l; },
                    grid,
                    border: { display: false },
                    ticks: { color: "#000", font: tickFont(), padding: 9, autoSkip: false, callback: num(p.yDec) }
                }
            }
        },
        plugins: [mplPlugin]
    });
}

function fieldSets(mmsT, mms, aceT, ace, omniT, omni) {
    const base = { borderWidth: 1.3, pointRadius: 0, fill: false, tension: 0 };
    return [
        Object.assign({ label: "MMS", data: series(mmsT, mms), borderColor: "#0000ff", order: 3 }, base),
        Object.assign({ label: "shifted ACE", data: series(aceT, ace), borderColor: "#ff0000", order: 2 }, base),
        Object.assign({ label: "OMNI", data: series(omniT, omni), borderColor: "#000000", order: 1 }, base)
    ];
}

function markerSet(label, values, color, order) {
    return {
        label,
        data: series(aTimes, values),
        borderColor: color,
        backgroundColor: "rgba(0,0,0,0)",
        pointRadius: 2.6,
        pointBorderWidth: 1.2,
        pointStyle: "circle",
        showLine: false,
        order
    };
}

const BX = [{ t: "B", it: true }, { t: "x", it: true, sub: true }, { t: " (nT)" }];
const BY = [{ t: "B", it: true }, { t: "y", it: true, sub: true }, { t: " (nT)" }];
const BZ = [{ t: "B", it: true }, { t: "z", it: true, sub: true }, { t: " (nT)" }];

// ---- panel (a) ----
makePanel({
    type: "scatter",
    box: { l: 77, t: 145, r: 503, b: 458 },
    m: { l: 77, t: 24, r: 20, b: 56 },
    xRange: [866.1, 1067.7], xTicks: aXTicks, xTitle: "hhmm at ACE",
    yRange: [0, 120], yTicks: aYTicks, yDec: 0,
    ylabel: [{ t: "Offset (min)" }],
    legend: "marker", annotate: true, date: true,
    tag: { text: "(a)", fx: 0.754, fy: 0.351, size: 22 },
    datasets: [
        markerSet("Timeshift at MMS using OMNI data", aMmsShift, "#008000", 4),
        markerSet("OMNIWeb timeshift at Bow Shock", aBowShock, "#00bfbf", 3),
        markerSet("Statistical Delay", aStatDelay, "#cc00cc", 2),
        markerSet("Flat Delay", aFlatDelay, "#000000", 1)
    ]
});

// ---- panel (b) ----
const bXRange = [859.9, 992.3];
makePanel({
    box: { l: 635, t: 26, r: 1042, b: 179 }, m: { l: 75, t: 26, r: 23, b: 24 },
    title: bTitle, legend: "line", tag: { text: "(b)", fx: 0.823, fy: 0.55, size: 26 },
    xRange: bXRange, xTicks: bXTicks, yRange: [-4.7, 6.55], yTicks: [0, 5], yDec: 0, ylabel: BX,
    datasets: fieldSets(bBxMmsT, bBxMms, bBxAceT, bBxAce, bBxOmniT, bBxOmni)
});
makePanel({
    box: { l: 635, t: 187, r: 1042, b: 339 }, m: { l: 75, t: 24, r: 23, b: 24 },
    xRange: bXRange, xTicks: bXTicks, yRange: [-2.15, 5.24], yTicks: [0, 2.5, 5], yDec: 1, ylabel: BY,
    datasets: fieldSets(bByMmsT, bByMms, bByAceT, bByAce, bByOmniT, bByOmni)
});
makePanel({
    box: { l: 635, t: 348, r: 1042, b: 501 }, m: { l: 75, t: 24, r: 23, b: 56 },
    xRange: bXRange, xTicks: bXTicks, xTitle: "hh:mm", date: true,
    yRange: [-3.15, 2.73], yTicks: [-2, 0, 2], yDec: 0, ylabel: BZ,
    datasets: fieldSets(bBzMmsT, bBzMms, bBzAceT, bBzAce, bBzOmniT, bBzOmni)
});

// ---- panel (c) ----
const cXRange = [957.1, 1088.7];
makePanel({
    box: { l: 90, t: 599, r: 499, b: 753 }, m: { l: 90, t: 28, r: 30, b: 24 },
    title: cTitle, legend: "line", tag: { text: "(c)", fx: 0.80, fy: 0.70, size: 26 },
    xRange: cXRange, xTicks: cXTicks, yRange: [-4.54, 3.15], yTicks: [-2.5, 0, 2.5], yDec: 1, ylabel: BX,
    datasets: fieldSets(cBxMmsT, cBxMms, cBxAceT, cBxAce, cBxOmniT, cBxOmni)
});
makePanel({
    box: { l: 90, t: 761, r: 499, b: 915 }, m: { l: 90, t: 24, r: 30, b: 24 },
    xRange: cXRange, xTicks: cXTicks, yRange: [-0.42, 3.63], yTicks: [0, 2], yDec: 0, ylabel: BY,
    datasets: fieldSets(cByMmsT, cByMms, cByAceT, cByAce, cByOmniT, cByOmni)
});
makePanel({
    box: { l: 90, t: 923, r: 499, b: 1077 }, m: { l: 90, t: 24, r: 30, b: 55 },
    xRange: cXRange, xTicks: cXTicks, xTitle: "hh:mm", date: true,
    yRange: [-3.74, 2.81], yTicks: [-2, 0, 2], yDec: 0, ylabel: BZ,
    datasets: fieldSets(cBzMmsT, cBzMms, cBzAceT, cBzAce, cBzOmniT, cBzOmni)
});

// ---- panel (d) ----
const dXRange = [1030.0, 1161.6];
makePanel({
    box: { l: 645, t: 599, r: 1053, b: 753 }, m: { l: 90, t: 27, r: 12, b: 24 },
    title: dTitle, legend: "line", tag: { text: "(d)", fx: 0.875, fy: 0.85, size: 26 },
    xRange: dXRange, xTicks: dXTicks, yRange: [-3.31, 4.47], yTicks: [-2.5, 0, 2.5], yDec: 1, ylabel: BX,
    datasets: fieldSets(dBxMmsT, dBxMms, dBxAceT, dBxAce, dBxOmniT, dBxOmni)
});
makePanel({
    box: { l: 645, t: 762, r: 1053, b: 916 }, m: { l: 90, t: 24, r: 12, b: 24 },
    xRange: dXRange, xTicks: dXTicks, yRange: [-0.21, 3.89], yTicks: [0, 2], yDec: 0, ylabel: BY,
    datasets: fieldSets(dByMmsT, dByMms, dByAceT, dByAce, dByOmniT, dByOmni)
});
makePanel({
    box: { l: 645, t: 924, r: 1053, b: 1078 }, m: { l: 90, t: 24, r: 12, b: 54 },
    xRange: dXRange, xTicks: dXTicks, xTitle: "hh:mm", date: true,
    yRange: [-3.74, 2.96], yTicks: [-2, 0, 2], yDec: 0, ylabel: BZ,
    datasets: fieldSets(dBzMmsT, dBzMms, dBzAceT, dBzAce, dBzOmniT, dBzOmni)
});
</script>
</body>
</html>
